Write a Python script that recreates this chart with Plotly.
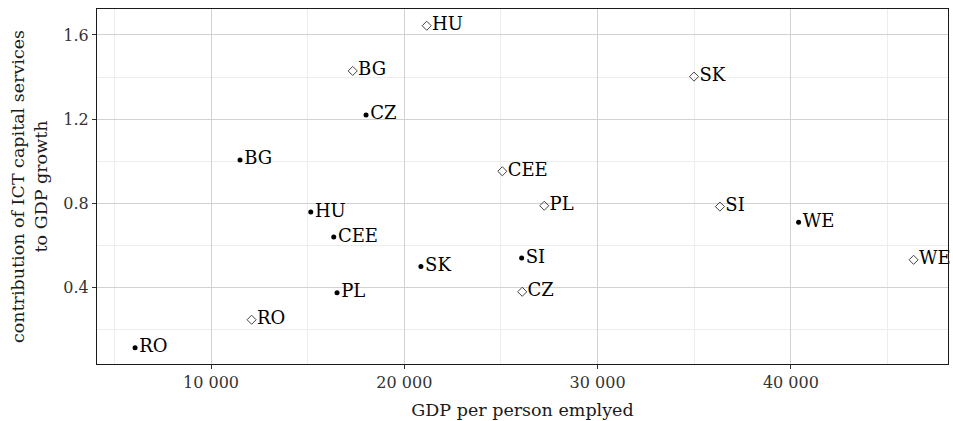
import plotly.graph_objects as go

# filled dots series
dot_labels = ["RO", "BG", "HU", "CEE", "SK", "PL", "CZ", "SI", "WE"]
dot_x = [6070, 11500, 15160, 16350, 20860, 16520, 18020, 26070, 40400]
dot_y = [0.113, 1.006, 0.758, 0.639, 0.499, 0.374, 1.220, 0.539, 0.710]

# open diamond series
dia_labels = ["RO", "BG", "HU", "CEE", "SK", "PL", "SI", "CZ", "WE"]
dia_x = [12100, 17330, 21160, 25070, 34990, 27240, 36330, 26100, 46350]
dia_y = [0.246, 1.429, 1.644, 0.952, 1.402, 0.788, 0.784, 0.379, 0.531]

x_ticks = [10000, 20000, 30000, 40000]
y_ticks = [0.4, 0.8, 1.2, 1.6]

FONT = "DejaVu Serif"

fig = go.Figure()
fig.add_trace(go.Scatter(
    x=dot_x, y=dot_y, text=dot_labels, mode="markers+text",
    textposition="middle right",
    marker=dict(symbol="circle", size=5, color="black"),
    textfont=dict(family=FONT, size=18, color="black"),
    showlegend=False, cliponaxis=False,
))
fig.add_trace(go.Scatter(
    x=dia_x, y=dia_y, text=dia_labels, mode="markers+text",
    textposition="middle right",
    marker=dict(symbol="diamond-open", size=7, color="#444444", line=dict(width=1)),
    textfont=dict(family=FONT, size=18, color="black"),
    showlegend=False, cliponaxis=False,
))

fig.update_layout(
    width=953, height=421,
    margin=dict(l=97, r=5, t=9, b=57),
    paper_bgcolor="white", plot_bgcolor="white",
    separators=". ",
    font=dict(family=FONT, size=16, color="#1a1a1a"),
    xaxis=dict(
        range=[4100, 48130], tickvals=x_ticks, tickformat=",d",
        showgrid=True, gridcolor="#d2d2d2", gridwidth=1.2,
        minor=dict(dtick=5000, tick0=5000, showgrid=True, gridcolor="#ededed", gridwidth=0.6),
        ticks="outside", ticklen=4, tickcolor="#333333",
        showline=True, linecolor="#1a1a1a", linewidth=1.2, mirror=True,
        zeroline=False, automargin=False,
        tickfont=dict(family=FONT, size=16, color="#333333"),
        title=dict(text="GDP per person emplyed", font=dict(family=FONT, size=17.5, color="#1a1a1a"), standoff=12),
    ),
    yaxis=dict(
        range=[0.0356, 1.7235], tickvals=y_ticks, tickformat=".1f",
        showgrid=True, gridcolor="#d2d2d2", gridwidth=1.2,
        minor=dict(tickvals=[0.2, 0.6, 1.0, 1.4], showgrid=True, gridcolor="#ededed", gridwidth=0.6),
        ticks="outside", ticklen=4, tickcolor="#333333",
        showline=True, linecolor="#1a1a1a", linewidth=1.2, mirror=True,
        zeroline=False, automargin=False,
        tickfont=dict(family=FONT, size=16, color="#333333"),
        title=dict(text="contribution of ICT capital services<br>to GDP growth",
                   font=dict(family=FONT, size=17.5, color="#1a1a1a"), standoff=11),
    ),
)

fig.write_html("out.html", config={"displayModeBar": False},
               post_script="document.body.style.margin='0';")
